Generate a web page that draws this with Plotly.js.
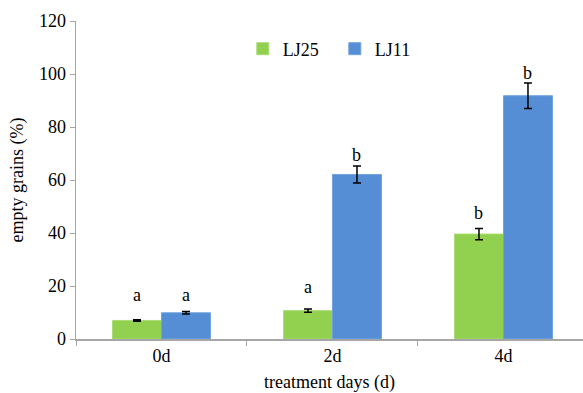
<!DOCTYPE html>
<html>
<head>
<meta charset="utf-8">
<script src="https://cdn.plot.ly/plotly-3.0.1.min.js"></script>
<style>html,body{margin:0;padding:0;background:#fff;}#chart{width:583px;height:393px;}</style>
</head>
<body>
<div id="chart"></div>
<script>
const categories = ['0d', '2d', '4d'];
const seriesNames = ['LJ25', 'LJ11'];
const lj25 = [7.0, 10.7, 39.6];
const lj25Err = [0.3, 0.6, 2.1];
const lj11 = [9.9, 62.1, 91.8];
const lj11Err = [0.5, 3.2, 4.8];
const lj25Letters = ['a', 'a', 'b'];
const lj11Letters = ['a', 'b', 'b'];
const lj25LetterY = [16.6, 19.7, 47.5];
const lj11LetterY = [16.6, 69.4, 100.5];
const yTicks = [0, 20, 40, 60, 80, 100, 120];

const font = '"Liberation Serif", "Times New Roman", serif';
const axisColor = '#a6a6a6';

const traces = [
  {type: 'bar', name: seriesNames[0], x: categories, y: lj25,
   marker: {color: '#92d050', line: {color: '#a9dc74', width: 1}},
   error_y: {type: 'data', array: lj25Err, visible: true, color: '#000', thickness: 1.5, width: 4}},
  {type: 'bar', name: seriesNames[1], x: categories, y: lj11,
   marker: {color: '#558ed5', line: {color: '#73a3de', width: 1}},
   error_y: {type: 'data', array: lj11Err, visible: true, color: '#000', thickness: 1.5, width: 4}}
];

const annotations = [];
categories.forEach((c, i) => {
  annotations.push({x: c, y: lj25LetterY[i], xref: 'x', yref: 'y', text: lj25Letters[i], showarrow: false, xshift: -24.5, yanchor: 'middle', font: {family: font, size: 18, color: '#000'}});
  annotations.push({x: c, y: lj11LetterY[i], xref: 'x', yref: 'y', text: lj11Letters[i], showarrow: false, xshift: 24.5, yanchor: 'middle', font: {family: font, size: 18, color: '#000'}});
});

const layout = {
  width: 583, height: 393,
  margin: {l: 76, r: 0, t: 21, b: 54},
  paper_bgcolor: '#fff', plot_bgcolor: '#fff',
  font: {family: font, size: 18, color: '#000'},
  barmode: 'group', bargap: 0.427, bargroupgap: 0,
  showlegend: true,
  legend: {orientation: 'h', x: 0.329, y: 0.912, xanchor: 'left', yanchor: 'middle',
           font: {family: font, size: 18, color: '#000'}, entrywidth: 47, entrywidthmode: 'pixels',
           traceorder: 'normal', bgcolor: 'rgba(0,0,0,0)'},
  xaxis: {
    type: 'category', range: [-0.5, 2.465], tickson: 'boundaries', ticks: 'outside', ticklen: 5,
    tickcolor: axisColor, showline: true, linecolor: axisColor, linewidth: 1.5, showgrid: false,
    tickfont: {family: font, size: 18, color: '#000'},
    title: {text: 'treatment days (d)', font: {family: font, size: 18, color: '#000'}, standoff: 10},
    automargin: false, fixedrange: true
  },
  yaxis: {
    range: [0, 120], tickvals: yTicks, ticks: 'outside', ticklen: 5, tickcolor: axisColor,
    showline: true, linecolor: axisColor, linewidth: 1.5, showgrid: false, zeroline: false,
    tickfont: {family: font, size: 18, color: '#000'},
    title: {text: 'empty grains (%)', font: {family: font, size: 18, color: '#000'}, standoff: 10},
    automargin: false, fixedrange: true
  },
  annotations: annotations
};

Plotly.newPlot('chart', traces, layout, {displayModeBar: false, staticPlot: true});
</script>
</body>
</html>
